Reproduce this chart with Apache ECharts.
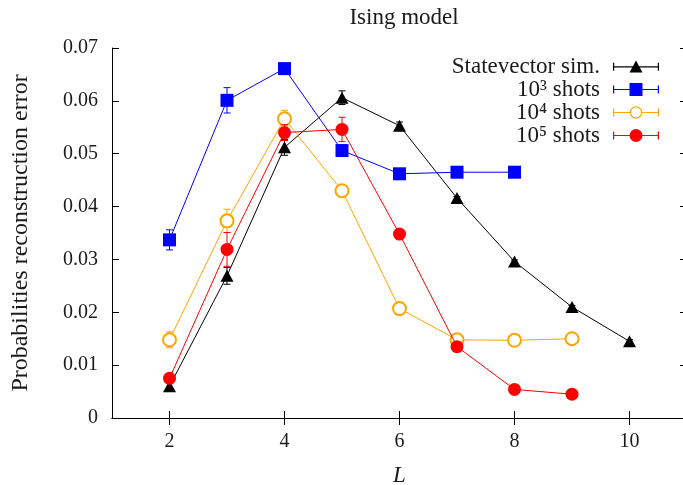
<!DOCTYPE html>
<html>
<head>
<meta charset="utf-8">
<script src="https://cdn.jsdelivr.net/npm/echarts@6/dist/echarts.min.js"></script>
<style>
  html, body { margin: 0; padding: 0; background: #fff; }
  #chart { width: 683px; height: 485px; }
</style>
</head>
<body>
<div id="chart"></div>
<script>
// data
const L = [2, 3, 4, 5, 6, 7, 8, 9, 10];

const stateVec = [0.0060, 0.0269, 0.0512, 0.0606, 0.0553, 0.0416, 0.0296, 0.0210, 0.0145];
const stateVecErr = [0.0007, 0.0016, 0.0015, 0.0013, 0.0007, 0.0003, 0.0003, 0.0003, 0.0003];

const shots3 = [0.0337, 0.0601, 0.0661, 0.0506, 0.0462, 0.0465, 0.0465];
const shots3Err = [0.0019, 0.0024, 0.0008, 0.0008, 0.0005, 0.0004, 0.0004];

const shots4 = [0.0148, 0.0373, 0.0566, 0.0430, 0.0207, 0.0148, 0.0147, 0.0150];
const shots4Err = [0.0015, 0.0022, 0.0016, 0.0009, 0.0005, 0.0003, 0.0002, 0.0002];

const shots5 = [0.0075, 0.0319, 0.0540, 0.0546, 0.0348, 0.0135, 0.0054, 0.0045];
const shots5Err = [0.0008, 0.0032, 0.0015, 0.0023, 0.0008, 0.0004, 0.0003, 0.0003];

const xTicks = [2, 4, 6, 8, 10];
const names = ["Statevector sim.", "10\u00b3 shots", "10\u2074 shots", "10\u2075 shots"];
const colors = ["#000000", "#0000ff", "#ffa500", "#ff0000"];

const FONT = "'Liberation Serif', 'DejaVu Serif', serif";

const chart = echarts.init(document.getElementById("chart"));

function pts(vals) {
  return vals.map((v, i) => [L[i], v]);
}
function errs(vals, e) {
  return vals.map((v, i) => [L[i], v - e[i], v + e[i]]);
}

function errorSeries(vals, e, color, z) {
  return {
    type: "custom",
    z: z,
    silent: true,
    data: errs(vals, e),
    renderItem: function (params, api) {
      const top = api.coord([api.value(0), api.value(2)]);
      const bot = api.coord([api.value(0), api.value(1)]);
      const w = 3.5;
      const st = { stroke: color, lineWidth: 1 };
      return {
        type: "group",
        children: [
          { type: "line", shape: { x1: top[0], y1: top[1], x2: bot[0], y2: bot[1] }, style: st },
          { type: "line", shape: { x1: top[0] - w, y1: top[1], x2: top[0] + w, y2: top[1] }, style: st },
          { type: "line", shape: { x1: bot[0] - w, y1: bot[1], x2: bot[0] + w, y2: bot[1] }, style: st },
        ],
      };
    },
  };
}

// legend icons: |--marker--| like gnuplot key
const bar = "M0 6.4 h46 v1.2 h-46 Z M0 3 h1.2 v8 h-1.2 Z M44.8 3 h1.2 v8 h-1.2 Z ";
const icons = [
  "path://" + bar + "M23 0.8 L29.5 12.6 L16.5 12.6 Z",
  "path://" + bar + "M16.5 0.5 h13 v13 h-13 Z",
  "path://M0 6.4 h16.8 v1.2 h-16.8 Z M29.2 6.4 h16.8 v1.2 h-16.8 Z M0 3 h1.2 v8 h-1.2 Z M44.8 3 h1.2 v8 h-1.2 Z " +
    "M16.8 7 A6.2 6.2 0 1 1 29.2 7 A6.2 6.2 0 1 1 16.8 7 Z M18 7 A5 5 0 1 0 28 7 A5 5 0 1 0 18 7 Z",
  "path://" + bar + "M16.5 7 A6.5 6.5 0 1 1 29.5 7 A6.5 6.5 0 1 1 16.5 7 Z",
];

const option = {
  animation: false,
  backgroundColor: "#fff",
  title: {
    text: "Ising model",
    left: 399,
    top: 1,
    textAlign: "center",
    textStyle: { fontFamily: FONT, fontSize: 23, fontWeight: "normal", color: "#1a1a1a" },
  },
  legend: {
    orient: "vertical",
    right: 19,
    top: 50,
    align: "right",
    itemWidth: 46,
    itemHeight: 14,
    itemGap: 0,
    textStyle: { fontFamily: FONT, fontSize: 23, color: "#1a1a1a", lineHeight: 21, padding: [0, 8, 0, 0] },
    data: names.map((n, i) => ({
      name: n,
      icon: icons[i],
      itemStyle: { color: colors[i], borderWidth: 0 },
    })),
  },
  grid: { left: 112, right: -4, top: 48, bottom: 67, outerBoundsMode: "none" },
  xAxis: [
    {
      type: "value",
      min: 1,
      max: 11,
      name: "L",
      nameLocation: "middle",
      nameGap: 46,
      nameTextStyle: { fontFamily: FONT, fontSize: 23, fontStyle: "italic", color: "#1a1a1a" },
      axisLine: { lineStyle: { color: "#000", width: 1 } },
      axisTick: { inside: true, length: 7, customValues: xTicks, lineStyle: { color: "#000" } },
      axisLabel: { customValues: xTicks, margin: 14, fontFamily: FONT, fontSize: 20, color: "#1a1a1a" },
      splitLine: { show: false },
    },
    {
      type: "value",
      position: "top",
      min: 1,
      max: 11,
      axisLine: { lineStyle: { color: "#000", width: 1 } },
      axisTick: { inside: true, length: 7, customValues: xTicks, lineStyle: { color: "#000" } },
      axisLabel: { show: false },
      splitLine: { show: false },
    },
  ],
  yAxis: [
    {
      type: "value",
      min: 0,
      max: 0.07,
      interval: 0.01,
      name: "Probabilities reconstruction error",
      nameLocation: "middle",
      nameRotate: 90,
      nameGap: 79,
      nameTextStyle: { fontFamily: FONT, fontSize: 24, color: "#1a1a1a" },
      axisLine: { show: true, lineStyle: { color: "#000", width: 1 } },
      axisTick: { show: true, inside: true, length: 7, lineStyle: { color: "#000" } },
      axisLabel: {
        margin: 14,
        fontFamily: FONT,
        fontSize: 20,
        color: "#1a1a1a",
        formatter: (v) => (v === 0 ? "0" : v.toFixed(2)),
      },
      splitLine: { show: false },
    },
    {
      type: "value",
      position: "right",
      min: 0,
      max: 0.07,
      interval: 0.01,
      axisLine: { show: true, lineStyle: { color: "#000", width: 1 } },
      axisTick: { show: true, inside: true, length: 7, lineStyle: { color: "#000" } },
      axisLabel: { show: false },
      splitLine: { show: false },
    },
  ],
  series: [
    errorSeries(stateVec, stateVecErr, colors[0], 2),
    {
      name: names[0],
      type: "line",
      z: 2,
      data: pts(stateVec),
      symbol: "triangle",
      symbolSize: [13, 12],
      lineStyle: { color: colors[0], width: 1 },
      itemStyle: { color: colors[0] },
    },
    errorSeries(shots3, shots3Err, colors[1], 3),
    {
      name: names[1],
      type: "line",
      z: 3,
      data: pts(shots3),
      symbol: "rect",
      symbolSize: 13,
      lineStyle: { color: colors[1], width: 1 },
      itemStyle: { color: colors[1] },
    },
    errorSeries(shots4, shots4Err, colors[2], 4),
    {
      name: names[2],
      type: "line",
      z: 4,
      data: pts(shots4),
      symbol: "emptyCircle",
      symbolSize: 13,
      lineStyle: { color: colors[2], width: 1 },
      itemStyle: { color: colors[2], borderColor: colors[2], borderWidth: 1.2 },
    },
    errorSeries(shots5, shots5Err, colors[3], 5),
    {
      name: names[3],
      type: "line",
      z: 5,
      data: pts(shots5),
      symbol: "circle",
      symbolSize: 13,
      lineStyle: { color: colors[3], width: 1 },
      itemStyle: { color: colors[3] },
    },
  ],
};

chart.setOption(option);
</script>
</body>
</html>
